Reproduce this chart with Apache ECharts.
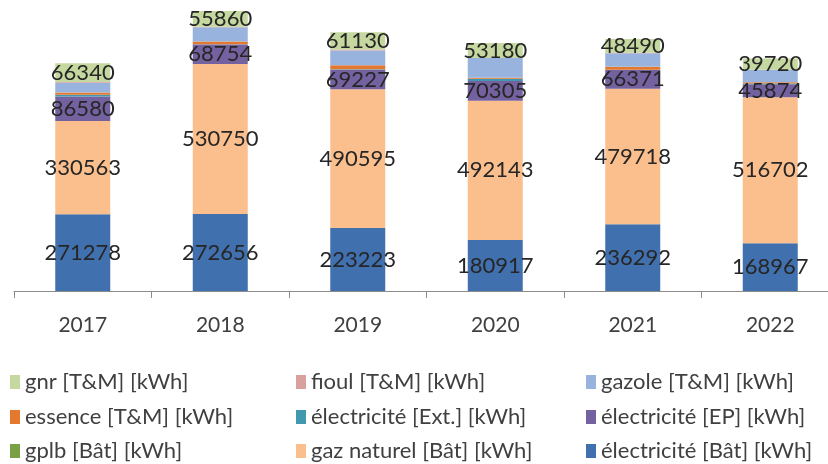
<!DOCTYPE html>
<html>
<head>
<meta charset="utf-8">
<script src="https://cdn.jsdelivr.net/npm/echarts@6/dist/echarts.min.js"></script>
<style>
  html, body { margin: 0; padding: 0; background: #ffffff; }
  #chart { width: 828px; height: 464px; }
</style>
</head>
<body>
<div id="chart"></div>
<script>
// Consommations annuelles par source d'énergie (kWh)
const years = ['2017', '2018', '2019', '2020', '2021', '2022'];

const elecBat  = [271278, 272656, 223223, 180917, 236292, 168967];
const gazNat   = [330563, 530750, 490595, 492143, 479718, 516702];
const gplb     = [0, 0, 0, 0, 0, 0];
const elecEP   = [86580, 68754, 69227, 70305, 66371, 45874];
const elecExt  = [6000, 1000, 2000, 8000, 1000, 3000];
const essence  = [8000, 10000, 14000, 3000, 10000, 4000];
const gazole   = [35000, 50000, 52000, 70000, 48000, 45000];
const fioul    = [2000, 2000, 4000, 0, 2000, 0];
const gnr      = [66340, 55860, 61130, 53180, 48490, 39720];

const seriesNames = {
  elecBat: 'électricité [Bât] [kWh]',
  gazNat: 'gaz naturel [Bât] [kWh]',
  gplb: 'gplb [Bât] [kWh]',
  elecEP: 'électricité [EP] [kWh]',
  elecExt: 'électricité [Ext.] [kWh]',
  essence: 'essence [T&M] [kWh]',
  gazole: 'gazole [T&M] [kWh]',
  fioul: 'fioul [T&M] [kWh]',
  gnr: 'gnr [T&M] [kWh]'
};

// Legend grid: three columns, three rows
const legendRows = [
  [seriesNames.gnr, seriesNames.fioul, seriesNames.gazole],
  [seriesNames.essence, seriesNames.elecExt, seriesNames.elecEP],
  [seriesNames.gplb, seriesNames.gazNat, seriesNames.elecBat]
];
const legendColLeft = [10, 296, 586];
const legendRowMid = [382, 417, 451];

const FONT = 'Lato';
const chart = echarts.init(document.getElementById('chart'), null, { renderer: 'canvas' });

function bar(name, data, color, labelled) {
  return {
    name: name,
    type: 'bar',
    stack: 'total',
    data: data,
    barWidth: 55,
    itemStyle: { color: color },
    label: {
      show: labelled,
      position: 'inside',
      color: '#262626',
      fontFamily: FONT,
      fontSize: 22,
      formatter: '{c}'
    },
    emphasis: { disabled: true }
  };
}

const legends = [];
legendRows.forEach(function (row, r) {
  row.forEach(function (name, c) {
    legends.push({
      orient: 'horizontal',
      left: legendColLeft[c],
      top: legendRowMid[r] - 12,
      padding: 0,
      itemWidth: 10,
      itemHeight: 14,
      icon: 'rect',
      textStyle: { fontFamily: FONT, fontSize: 22, color: '#404040', lineHeight: 24 },
      data: [name],
      selectedMode: false
    });
  });
});

chart.setOption({
  animation: false,
  backgroundColor: '#ffffff',
  grid: { left: 14, top: 0, width: 825, height: 291, outerBoundsMode: 'none' },
  legend: legends,
  xAxis: {
    type: 'category',
    data: years,
    axisLine: { lineStyle: { color: '#8c8c8c', width: 1 } },
    axisTick: { show: true, length: 7, lineStyle: { color: '#8c8c8c' } },
    axisLabel: { margin: 24, fontFamily: FONT, fontSize: 21, color: '#404040' }
  },
  yAxis: {
    type: 'value',
    min: 0,
    max: 1030000,
    show: false,
    splitLine: { show: false }
  },
  series: [
    bar(seriesNames.elecBat, elecBat, '#4170ae', true),
    bar(seriesNames.gazNat, gazNat, '#fbbf8e', true),
    bar(seriesNames.gplb, gplb, '#7aa046', false),
    bar(seriesNames.elecEP, elecEP, '#7461a0', true),
    bar(seriesNames.elecExt, elecExt, '#4198af', false),
    bar(seriesNames.essence, essence, '#e5782f', false),
    bar(seriesNames.gazole, gazole, '#98b4de', false),
    bar(seriesNames.fioul, fioul, '#d9a0a0', false),
    bar(seriesNames.gnr, gnr, '#c4d8a0', true)
  ]
});
</script>
</body>
</html>
